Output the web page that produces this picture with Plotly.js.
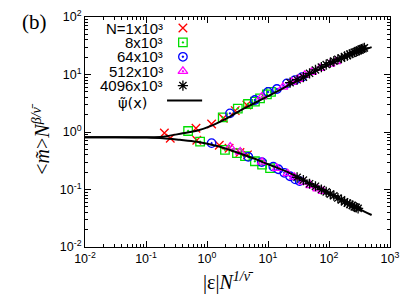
<!DOCTYPE html>
<html>
<head>
<meta charset="utf-8">
<script src="https://cdn.plot.ly/plotly-3.0.1.min.js"></script>
<style>html,body{margin:0;padding:0;background:#fff;}#chart{width:415px;height:297px;}</style>
</head>
<body>
<div id="chart"></div>
<script>
// ---- data ----
const seriesNames = ["N=1x10\u00b3", "8x10\u00b3", "64x10\u00b3", "512x10\u00b3", "4096x10\u00b3"];
const psiName = "\u03c8\u0303(x)";

const redUpX = [0.2, 0.66, 1.19, 1.85, 2.9, 4.5];
const redUpY = [0.96, 1.16, 1.38, 1.73, 2.35, 2.95];
const redLoX = [0.25, 0.68, 1.59, 2.3, 3.47, 4.6];
const redLoY = [0.78, 0.72, 0.59, 0.52, 0.44, 0.40];

const greenUpX = [0.49, 1.81, 3.2, 4.7, 6.1, 7.4, 9.6, 11.2];
const greenUpY = [1.04, 1.79, 2.56, 3.07, 3.37, 3.85, 4.5, 4.97];
const greenLoX = [0.77, 1.97, 3.1, 4.2, 6.1, 8, 10.8];
const greenLoY = [0.68, 0.49, 0.43, 0.38, 0.31, 0.27, 0.235];

const blueUpX = [2.38, 6.1, 10, 14, 20.4, 27.7, 36];
const blueUpY = [2.11, 3.6, 4.97, 5.6, 7.0, 8.0, 9.0];
const blueLoX = [1.19, 4.75, 7.9, 12.2, 14.8, 18.5, 23, 28, 33];
const blueLoY = [0.64, 0.37, 0.30, 0.25, 0.225, 0.195, 0.17, 0.15, 0.14];

const magUpX = [7.9, 17.6, 24.6, 31, 40, 52, 71, 104, 130];
const magUpY = [4.1, 6.06, 7.4, 8.3, 9.8, 11.0, 12.8, 15.2, 16.8];
const magLoX = [2.4, 3.5, 8, 14, 21, 27, 38, 50, 65, 80];
const magLoY = [0.55, 0.45, 0.30, 0.235, 0.19, 0.165, 0.135, 0.118, 0.103, 0.093];

const blkUpX = [23, 30, 38, 48, 60, 75, 90, 105, 120, 140, 160, 180, 200, 220, 240, 260, 280, 300, 320, 340, 360, 380];
const blkUpY = [7.2, 8.1, 9.0, 10.5, 12.0, 13.4, 14.9, 16.0, 17.1, 18.4, 19.3, 20.6, 21.3, 22.6, 23.4, 24.4, 25.0, 26.0, 26.7, 27.6, 28.2, 29.0];
const blkLoX = [30, 38, 48, 60, 75, 90, 105, 120, 140, 160, 180, 200, 220, 240, 260, 280, 300];
const blkLoY = [0.163, 0.146, 0.126, 0.114, 0.100, 0.091, 0.083, 0.078, 0.071, 0.066, 0.061, 0.058, 0.055, 0.053, 0.050, 0.049, 0.047];

const psiUpX = [0.01, 0.03, 0.1, 0.19, 0.4, 0.68, 1.25, 2.38, 3.47, 5.75, 10, 20.2, 40, 71, 150, 300, 500];
const psiUpY = [0.81, 0.81, 0.81, 0.83, 0.95, 1.05, 1.32, 1.85, 2.35, 3.1, 4.2, 6.2, 9.0, 12.5, 18.0, 24.6, 30];
const psiLoX = [0.01, 0.03, 0.1, 0.19, 0.36, 0.68, 1.25, 1.63, 2.38, 5.75, 10, 20.2, 40, 71, 150, 300, 500];
const psiLoY = [0.81, 0.81, 0.80, 0.78, 0.73, 0.675, 0.594, 0.555, 0.486, 0.349, 0.275, 0.204, 0.143, 0.105, 0.069, 0.047, 0.036];

const xTickVals = [0.01, 0.1, 1, 10, 100, 1000];
const xTickText = ["10<sup>-2</sup>", "10<sup>-1</sup>", "10<sup>0</sup>", "10<sup>1</sup>", "10<sup>2</sup>", "10<sup>3</sup>"];
const yTickVals = [0.01, 0.1, 1, 10, 100];
const yTickText = ["10<sup>-2</sup>", "10<sup>-1</sup>", "10<sup>0</sup>", "10<sup>1</sup>", "10<sup>2</sup>"];

function minorVals(lo, hi) {
  const out = [];
  for (let e = lo; e < hi; e++) for (let m = 2; m <= 9; m++) out.push(m * Math.pow(10, e));
  return out;
}

// ---- styles ----
const styles = [
  {color: "#ff0000", symbol: "x-thin-open"},
  {color: "#00dd00", symbol: "square-open-dot"},
  {color: "#0000ff", symbol: "circle-open-dot"},
  {color: "#ff00ff", symbol: "triangle-up-open-dot"},
  {color: "#000000", symbol: "asterisk-open"}
];
const groups = [
  [redUpX, redUpY, redLoX, redLoY],
  [greenUpX, greenUpY, greenLoX, greenLoY],
  [blueUpX, blueUpY, blueLoX, blueLoY],
  [magUpX, magUpY, magLoX, magLoY],
  [blkUpX, blkUpY, blkLoX, blkLoY]
];

const traces = [];
groups.forEach((g, i) => {
  const mk = {symbol: styles[i].symbol, color: styles[i].color, size: 8.5, line: {color: styles[i].color, width: 1.3}};
  traces.push({x: g[0], y: g[1], type: "scatter", mode: "markers", marker: mk, showlegend: false, hoverinfo: "skip"});
  traces.push({x: g[2], y: g[3], type: "scatter", mode: "markers", marker: mk, showlegend: false, hoverinfo: "skip"});
});
traces.push({x: psiUpX, y: psiUpY, type: "scatter", mode: "lines", line: {color: "#000", width: 2, shape: "spline"}, showlegend: false, hoverinfo: "skip"});
traces.push({x: psiLoX, y: psiLoY, type: "scatter", mode: "lines", line: {color: "#000", width: 2, shape: "spline"}, showlegend: false, hoverinfo: "skip"});

// ---- custom key (text left, symbol right) on an overlay axis ----
const keyX = 0.321, keyTextX = 0.262, keyTop = 0.952, keyStep = 0.0625;
styles.forEach((s, i) => {
  traces.push({x: [keyX], y: [keyTop - i * keyStep], xaxis: "x2", yaxis: "y2", type: "scatter", mode: "markers",
    marker: {symbol: s.symbol, color: s.color, size: 8.5, line: {color: s.color, width: 1.3}}, showlegend: false, hoverinfo: "skip"});
});
traces.push({x: [0.269, 0.384], y: [keyTop - 5 * keyStep - 0.003, keyTop - 5 * keyStep - 0.003], xaxis: "x2", yaxis: "y2", type: "scatter", mode: "lines",
  line: {color: "#000", width: 2}, showlegend: false, hoverinfo: "skip"});

const keyFont = {family: "Liberation Sans, Arial, sans-serif", size: 15, color: "#000"};
const annotations = seriesNames.map((n, i) => ({
  xref: "paper", yref: "paper", x: keyTextX, y: keyTop - i * keyStep, xanchor: "right", yanchor: "middle",
  text: n, showarrow: false, font: keyFont
}));
annotations.push({xref: "paper", yref: "paper", x: 0.21, y: keyTop - 5 * keyStep - 0.012, xanchor: "right", yanchor: "middle",
  text: psiName, showarrow: false, font: {family: "DejaVu Sans, sans-serif", size: 14.5, color: "#000"}});
annotations.push({xref: "paper", yref: "paper", x: -0.212, y: 0.978, xanchor: "left", yanchor: "middle",
  text: "(b)", showarrow: false, font: {family: "Liberation Serif, Times New Roman, serif", size: 21, color: "#000"}});
// y-axis title placed as rotated annotation
annotations.push({xref: "paper", yref: "paper", x: -0.145, y: 0.47, xanchor: "center", yanchor: "middle", textangle: -90,
  text: "&lt;<i>m\u0303</i>&gt;<i>N</i><sup><i>\u03b2/\u03bd\u0304</i></sup>", showarrow: false,
  font: {family: "Liberation Serif, Times New Roman, serif", size: 20, color: "#000"}});
// x-axis title
annotations.push({xref: "paper", yref: "paper", x: 0.47, y: -0.148, xanchor: "center", yanchor: "middle",
  text: "|\u03b5|<i>N</i><sup><i>1/\u03bd\u0304</i></sup>", showarrow: false,
  font: {family: "Liberation Serif, Times New Roman, serif", size: 20, color: "#000"}});

const axisCommon = {
  type: "log", showline: true, linecolor: "#000", linewidth: 1, mirror: "allticks",
  ticks: "inside", ticklen: 6, tickwidth: 1, tickcolor: "#000", showgrid: false, zeroline: false,
  tickfont: {family: "Liberation Sans, Arial, sans-serif", size: 12.5, color: "#000"}
};

const layout = {
  width: 415, height: 297,
  margin: {l: 85, r: 25, t: 17, b: 50},
  paper_bgcolor: "#fff", plot_bgcolor: "#fff",
  showlegend: false,
  xaxis: Object.assign({}, axisCommon, {
    range: [-2, 3], tickvals: xTickVals, ticktext: xTickText,
    minor: {tickmode: "array", tickvals: minorVals(-2, 3), ticks: "inside", ticklen: 3, tickcolor: "#000", showgrid: false}
  }),
  yaxis: Object.assign({}, axisCommon, {
    range: [-2, 2], tickvals: yTickVals, ticktext: yTickText,
    minor: {tickmode: "array", tickvals: minorVals(-2, 2), ticks: "inside", ticklen: 3, tickcolor: "#000", showgrid: false}
  }),
  xaxis2: {overlaying: "x", range: [0, 1], visible: false, fixedrange: true},
  yaxis2: {overlaying: "y", range: [0, 1], visible: false, fixedrange: true},
  annotations: annotations
};

Plotly.newPlot("chart", traces, layout, {staticPlot: true, displayModeBar: false});
</script>
</body>
</html>
